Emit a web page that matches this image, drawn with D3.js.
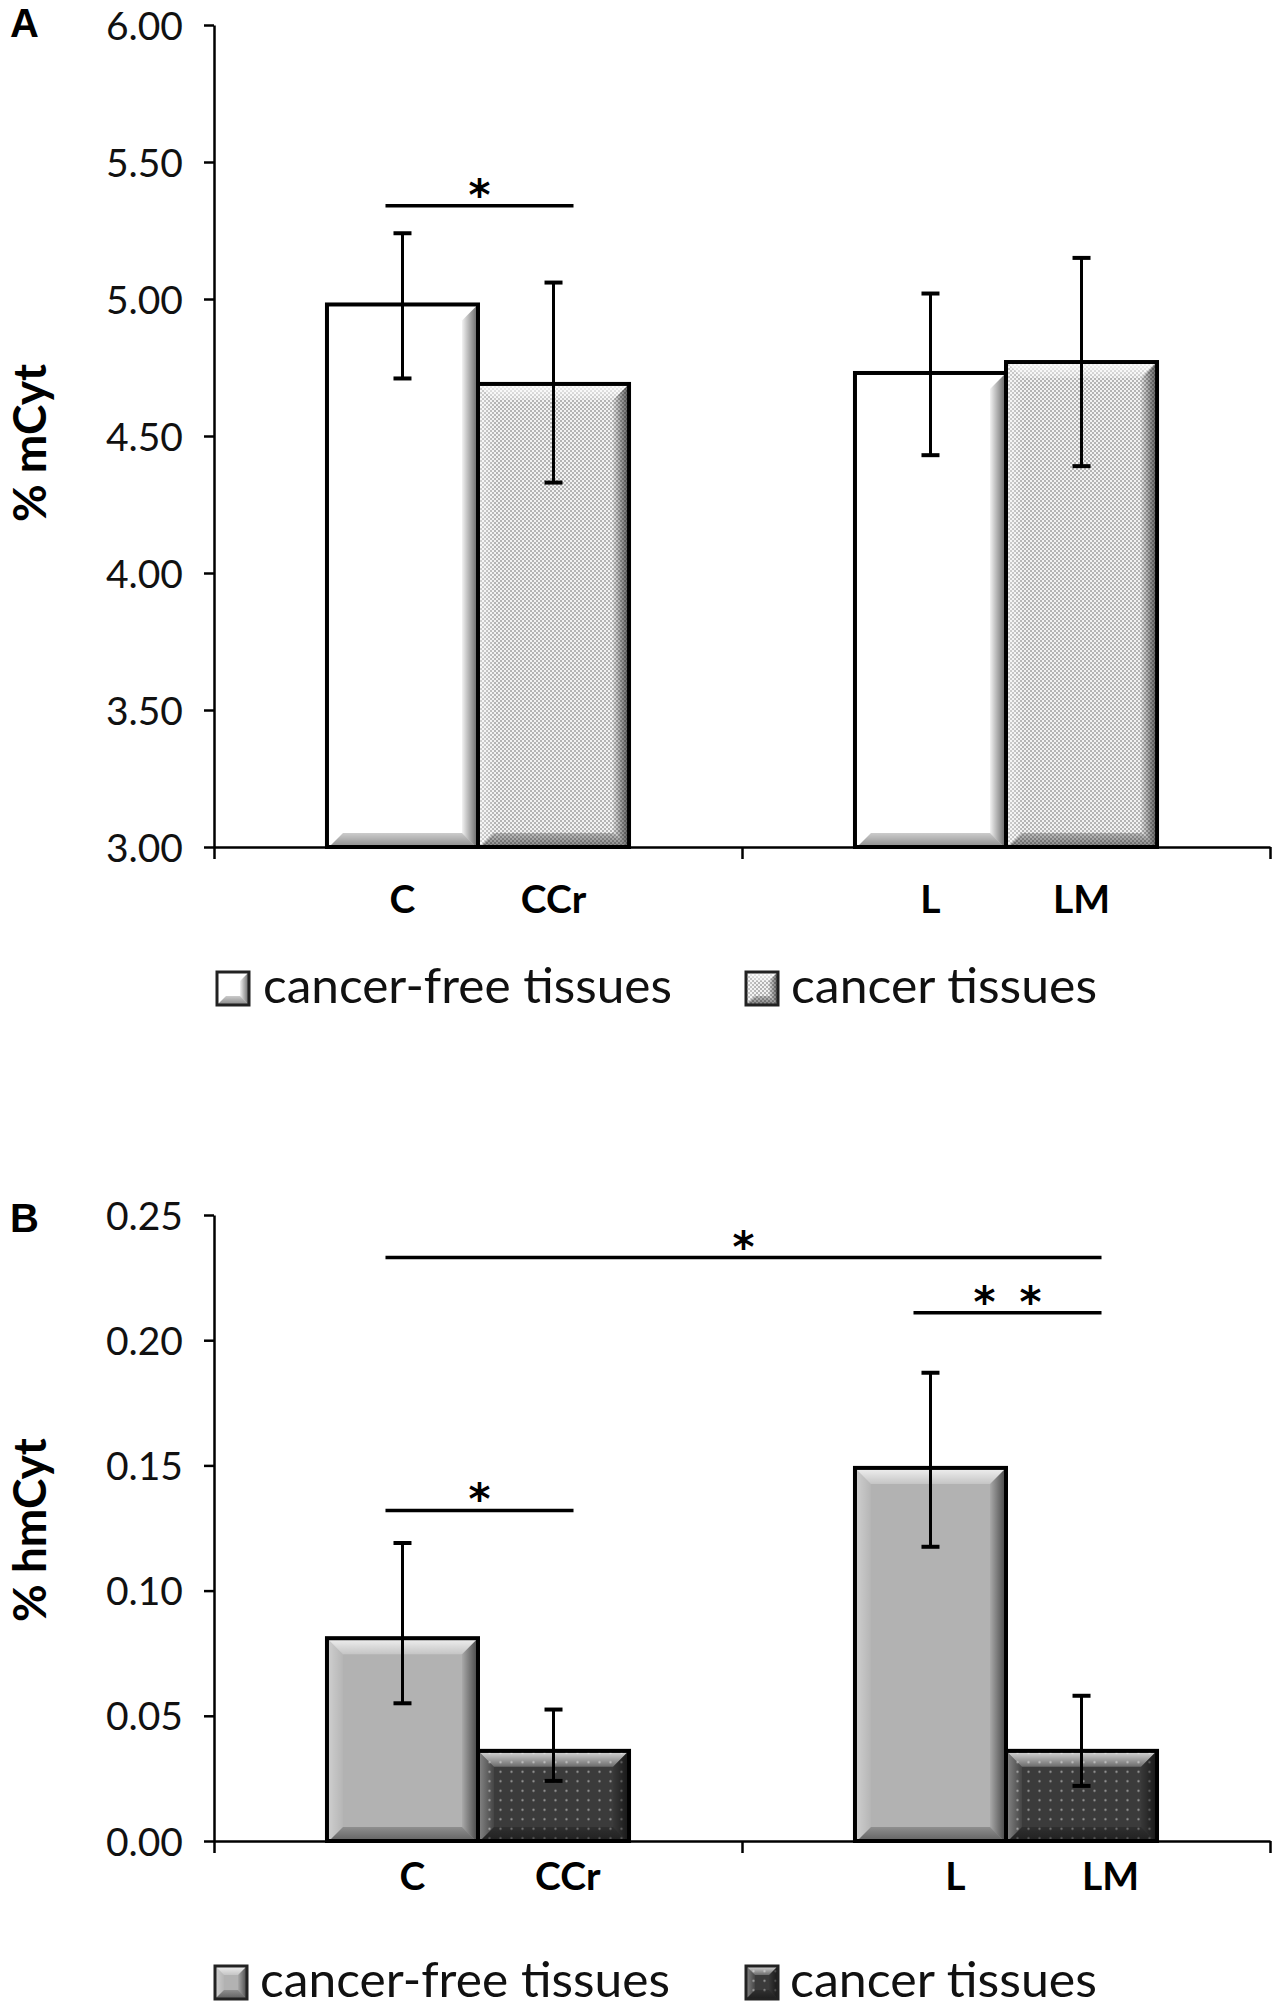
<!DOCTYPE html>
<html><head><meta charset="utf-8">
<script src="https://cdn.jsdelivr.net/npm/d3@7"></script>
<style>body{margin:0;background:#fff} svg{display:block;background:#fff}</style>
</head><body><svg id="chart" width="1280" height="2008"></svg>
<script>
// ---------- data ----------
const categories = ["C", "CCr", "L", "LM"];
const groups = ["colon", "liver"];
const categoryGroup = [0, 0, 1, 1];
const categorySeries = [0, 1, 0, 1];
const seriesNames = ["cancer-free tissues", "cancer tissues"];

const mCytMean = [4.98, 4.69, 4.73, 4.77];
const mCytLow  = [4.71, 4.33, 4.43, 4.39];
const mCytHigh = [5.24, 5.06, 5.02, 5.15];
const mCytTicks = [3.00, 3.50, 4.00, 4.50, 5.00, 5.50, 6.00];
const mCytSig = [{from: "C", to: "CCr", level: 5.34, label: "*"}];

const hmCytMean = [0.081, 0.036, 0.149, 0.036];
const hmCytLow  = [0.055, 0.024, 0.1175, 0.022];
const hmCytHigh = [0.119, 0.0525, 0.187, 0.058];
const hmCytTicks = [0.00, 0.05, 0.10, 0.15, 0.20, 0.25];
const hmCytSig = [
  {from: "C", to: "LM", level: 0.233, label: "*"},
  {from: "L", to: "LM", level: 0.211, label: "* *"},
  {from: "C", to: "CCr", level: 0.132, label: "*"}
];

// ---------- setup ----------
const svg = d3.select("#chart");
const defs = svg.append("defs");
const FONT = "Lato, 'Open Sans', sans-serif";
const STAR_FONT = "'DejaVu Sans', sans-serif";

// patterns
const pA = defs.append("pattern").attr("id", "patA").attr("patternUnits", "userSpaceOnUse")
  .attr("width", 4).attr("height", 4);
pA.append("rect").attr("width", 4).attr("height", 4).attr("fill", "#f2f2f2");
pA.append("rect").attr("width", 2).attr("height", 2).attr("fill", "#b4b4b4");
pA.append("rect").attr("x", 2).attr("y", 2).attr("width", 2).attr("height", 2).attr("fill", "#b4b4b4");

const pB = defs.append("pattern").attr("id", "patB").attr("patternUnits", "userSpaceOnUse")
  .attr("width", 11).attr("height", 9.5);
pB.append("rect").attr("width", 11).attr("height", 9.5).attr("fill", "#3b3b3b");
pB.append("circle").attr("cx", 5.5).attr("cy", 4.75).attr("r", 1.2).attr("fill", "#8e8e8e");

// bevel gradients
function grad(id, x1, y1, x2, y2, c, o1, o2) {
  const g = defs.append("linearGradient").attr("id", id)
    .attr("x1", x1).attr("y1", y1).attr("x2", x2).attr("y2", y2);
  g.append("stop").attr("offset", 0).attr("stop-color", c).attr("stop-opacity", o1);
  g.append("stop").attr("offset", 1).attr("stop-color", c).attr("stop-opacity", o2);
}
grad("bvTop", 0, 0, 0, 1, "#fff", 0.75, 0.25);
grad("bvLeft", 0, 0, 1, 0, "#fff", 0.35, 0.05);
grad("bvRight", 0, 0, 1, 0, "#000", 0.05, 0.55);
grad("bvBottom", 0, 0, 0, 1, "#000", 0.2, 0.45);

function bevel(g, x, y, w, h, b) {
  b = Math.min(b, w / 2, h / 2);
  const polys = [
    {pts: [[x, y], [x + w, y], [x + w - b, y + b], [x + b, y + b]], f: "bvTop"},
    {pts: [[x, y], [x + b, y + b], [x + b, y + h - b], [x, y + h]], f: "bvLeft"},
    {pts: [[x + w, y], [x + w, y + h], [x + w - b, y + h - b], [x + w - b, y + b]], f: "bvRight"},
    {pts: [[x, y + h], [x + b, y + h - b], [x + w - b, y + h - b], [x + w, y + h]], f: "bvBottom"}
  ];
  polys.forEach(p => g.append("polygon").attr("points", p.pts.map(d => d.join(",")).join(" "))
    .attr("fill", `url(#${p.f})`));
}

// shared x scales
const xGroup = d3.scaleBand().domain(groups).range([214, 1270]).paddingInner(0).paddingOuter(0);
const xSeries = d3.scaleBand().domain([0, 1]).range([0, xGroup.bandwidth()]).paddingInner(0).paddingOuter(0.748);
const xEdges = d3.scaleLinear().domain([0, groups.length]).range([214, 1270]);
function barX(i) { return xGroup(groups[categoryGroup[i]]) + xSeries(categorySeries[i]); }
function barCenter(i) { return barX(i) + xSeries.bandwidth() / 2; }

function drawPanel(cfg) {
  const g = svg.append("g");
  const y = d3.scaleLinear().domain(cfg.domain).range([cfg.bottom, cfg.top]);

  // y axis
  const yAx = g.append("g").attr("transform", "translate(214,0)")
    .call(d3.axisLeft(y).tickValues(cfg.ticks).tickSize(10).tickSizeOuter(0).tickPadding(21).tickFormat(d3.format(".2f")));
  yAx.select(".domain").attr("stroke", "#000").attr("stroke-width", 2.5);
  yAx.selectAll(".tick line").attr("stroke", "#000").attr("stroke-width", 2.5);
  yAx.selectAll(".tick text").attr("font-family", FONT).attr("font-size", 39).attr("fill", "#111")
    .attr("dy", "0.36em");

  // bars
  const bw = xSeries.bandwidth();
  categories.forEach((c, i) => {
    const x = barX(i), yt = y(cfg.mean[i]), h = cfg.bottom - yt;
    const bg = g.append("g");
    bg.append("rect").attr("x", x).attr("y", yt).attr("width", bw).attr("height", h)
      .attr("fill", cfg.fills[categorySeries[i]]);
    bevel(bg, x + 2, yt + 2, bw - 4, h - 2, 14);
    bg.append("rect").attr("x", x).attr("y", yt).attr("width", bw).attr("height", h)
      .attr("fill", "none").attr("stroke", "#000").attr("stroke-width", 4);
  });

  // x axis
  const xAx = g.append("g").attr("transform", `translate(0,${cfg.bottom})`)
    .call(d3.axisBottom(xEdges).tickValues(d3.range(groups.length + 1)).tickSize(12).tickSizeOuter(0).tickFormat(""));
  xAx.select(".domain").attr("stroke", "#000").attr("stroke-width", 2.5);
  xAx.selectAll(".tick line").attr("stroke", "#000").attr("stroke-width", 2.5);

  // error bars
  categories.forEach((c, i) => {
    const cx = barCenter(i), y1 = y(cfg.high[i]), y2 = y(cfg.low[i]);
    const eg = g.append("g").attr("stroke", "#000").attr("stroke-width", 3);
    eg.append("line").attr("x1", cx).attr("x2", cx).attr("y1", y1).attr("y2", y2);
    eg.append("line").attr("x1", cx - 9).attr("x2", cx + 9).attr("y1", y1).attr("y2", y1).attr("stroke-width", 4);
    eg.append("line").attr("x1", cx - 9).attr("x2", cx + 9).attr("y1", y2).attr("y2", y2).attr("stroke-width", 4);
  });

  // significance
  cfg.sig.forEach(s => {
    const x1 = barCenter(categories.indexOf(s.from)) - 17;
    const x2 = barCenter(categories.indexOf(s.to)) + 20;
    const ly = y(s.level);
    g.append("line").attr("x1", x1).attr("x2", x2).attr("y1", ly).attr("y2", ly)
      .attr("stroke", "#000").attr("stroke-width", 3.5);
    const stars = s.label.split(" ");
    const mid = (x1 + x2) / 2;
    stars.forEach((st, k) => {
      g.append("text").attr("x", mid + (k - (stars.length - 1) / 2) * 46).attr("y", ly - 18 + 22)
        .attr("text-anchor", "middle").attr("font-family", STAR_FONT).attr("font-weight", 700)
        .attr("font-size", 42).attr("fill", "#000").text(st);
    });
  });

  // category labels
  categories.forEach((c, i) => {
    const cx = barCenter(i);
    g.append("text").attr("x", cx + cfg.labelShift(cx)).attr("y", cfg.labelY)
      .attr("text-anchor", "middle").attr("font-family", FONT).attr("font-weight", 700)
      .attr("font-size", 39).attr("fill", "#000").text(c);
  });

  // y title
  g.append("text").attr("transform", `translate(${cfg.titleX},${cfg.titleY}) rotate(-90)`)
    .attr("text-anchor", "middle").attr("font-family", FONT).attr("font-weight", 700)
    .attr("font-size", 46).attr("fill", "#000").text(cfg.title);

  // panel letter
  g.append("text").attr("x", 10).attr("y", cfg.letterY).attr("font-family", "'Liberation Sans', Arial, sans-serif")
    .attr("font-weight", 700).attr("font-size", 40).attr("fill", "#000").text(cfg.letter);

  // legend
  seriesNames.forEach((name, k) => {
    const bx = cfg.legendBoxX[k], by = cfg.legendY;
    const lg = g.append("g");
    lg.append("rect").attr("x", bx).attr("y", by).attr("width", 32).attr("height", 33).attr("fill", cfg.fills[k]);
    bevel(lg, bx + 1, by + 1, 30, 31, 8);
    lg.append("rect").attr("x", bx).attr("y", by).attr("width", 32).attr("height", 33)
      .attr("fill", "none").attr("stroke", "#222").attr("stroke-width", 3);
    lg.append("text").attr("x", cfg.legendTextX[k]).attr("y", by + 31)
      .attr("font-family", FONT).attr("font-size", 49).attr("fill", "#111")
      .attr("textLength", cfg.legendTextLen[k]).attr("lengthAdjust", "spacingAndGlyphs").text(name);
  });
}

drawPanel({
  top: 25, bottom: 847, domain: [3, 6], ticks: mCytTicks,
  mean: mCytMean, low: mCytLow, high: mCytHigh, sig: mCytSig,
  fills: ["#ffffff", "url(#patA)"],
  title: "% mCyt", titleX: 46, titleY: 443, letter: "A", letterY: 37,
  labelY: 913, labelShift: cx => 0,
  legendY: 972, legendBoxX: [217, 746], legendTextX: [263, 791], legendTextLen: [409, 306]
});

drawPanel({
  top: 1215, bottom: 1841, domain: [0, 0.25], ticks: hmCytTicks,
  mean: hmCytMean, low: hmCytLow, high: hmCytHigh, sig: hmCytSig,
  fills: ["#b2b2b2", "url(#patB)"],
  title: "% hmCyt", titleX: 46, titleY: 1530, letter: "B", letterY: 1232,
  labelY: 1890, labelShift: cx => 10 + (cx - 401) * 0.028,
  legendY: 1966, legendBoxX: [215, 746], legendTextX: [260, 790], legendTextLen: [410, 307]
});
</script>
</body></html>
